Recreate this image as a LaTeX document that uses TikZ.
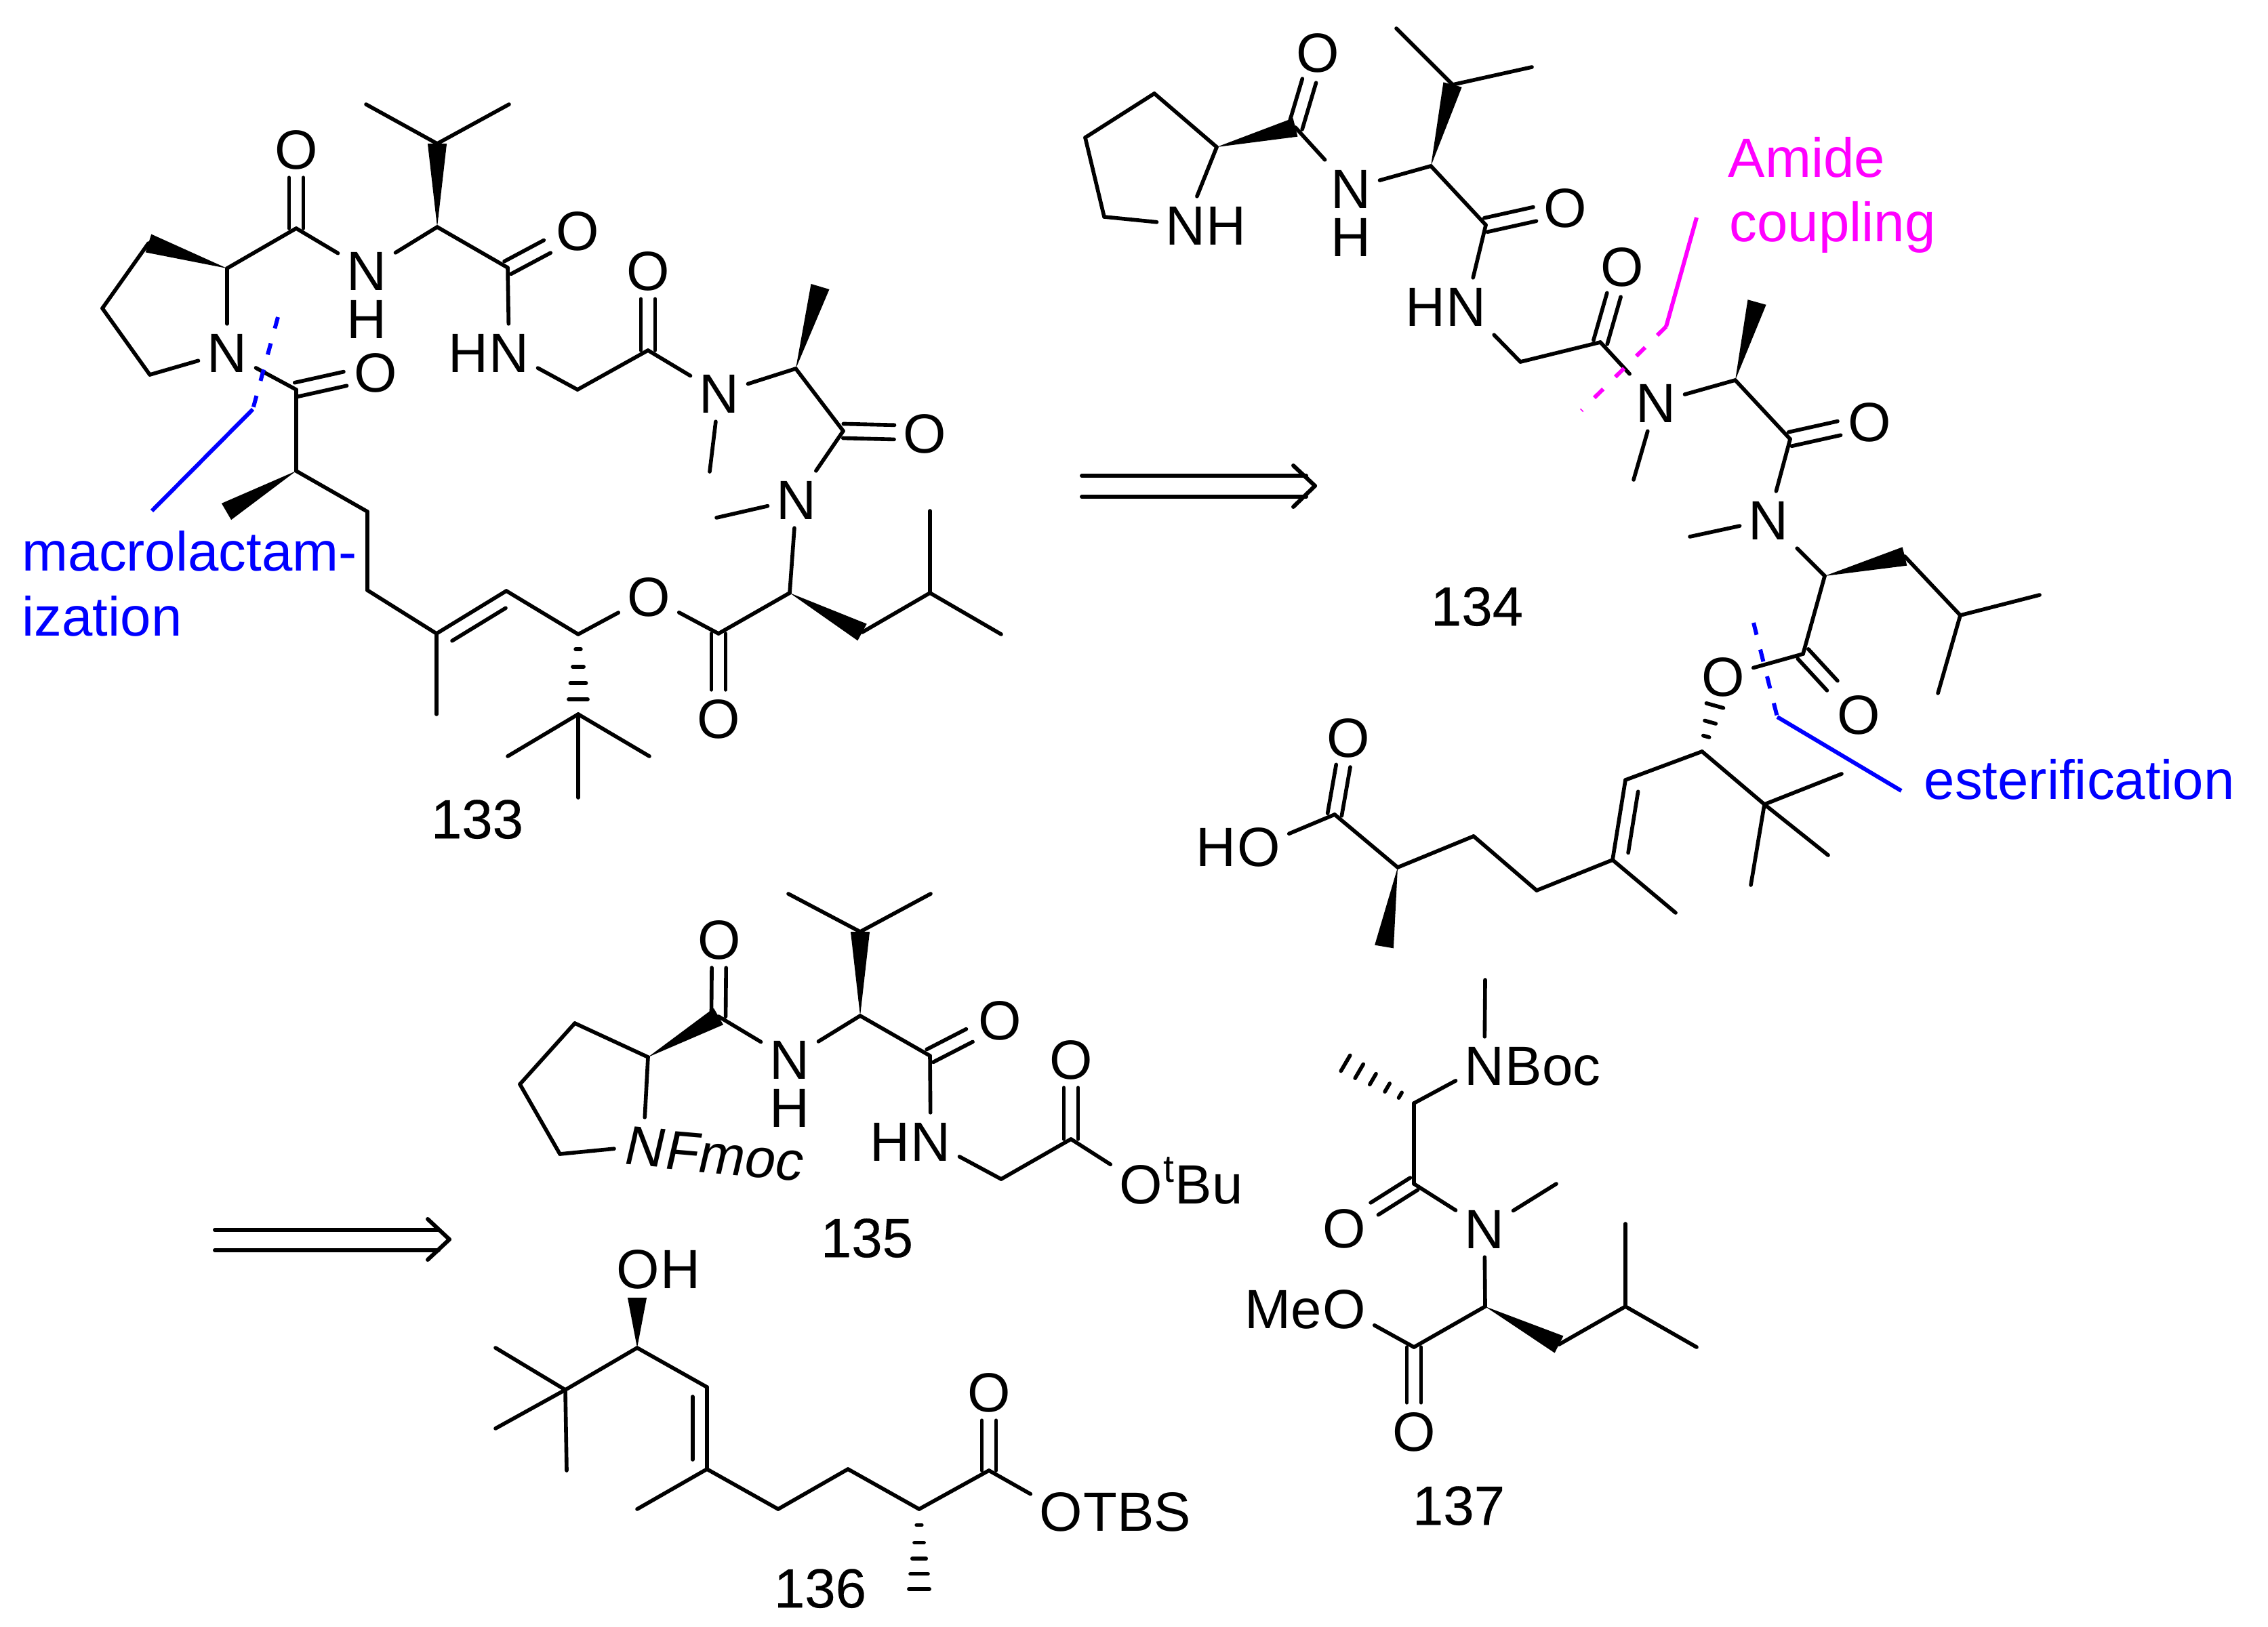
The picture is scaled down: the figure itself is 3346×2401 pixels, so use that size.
\documentclass[tikz,border=0pt]{standalone}
\usepackage{fontspec}
\setmainfont{Liberation Sans}
\newfontfamily\tagfont[FakeBold=0.25]{Liberation Sans}
\newfontfamily\leanfont[FakeSlant=0.14]{Liberation Sans}
\usetikzlibrary{calc, positioning}
\definecolor{cutblue}{RGB}{0,0,255}
\definecolor{cutpink}{RGB}{255,0,255}
\tikzstyle{bond} = [line width=1.6pt, line cap=round, line join=round]
\tikzstyle{retro} = [line width=1.7pt, line cap=round, line join=round]
\tikzstyle{atom} = [inner sep=3.5pt, text height=16.6pt, text depth=0pt, font=\fontsize{23.2}{26}\selectfont]
\tikzstyle{tag} = [atom, inner sep=0pt, font=\fontsize{23.2}{26}\tagfont]
\tikzstyle{word} = [inner sep=0pt, anchor=base west, font=\fontsize{23.2}{26}\selectfont]
\tikzstyle{cut} = [line width=1.7pt]
\newcommand{\dbond}[2]{%
  \path (#1) -- (#2) coordinate[pos=0] (ds) coordinate[pos=1] (de);
  \draw[bond] ($(ds)!3pt!90:(de)$) -- ($(de)!3pt!-90:(ds)$);
  \draw[bond] ($(ds)!3pt!-90:(de)$) -- ($(de)!3pt!90:(ds)$);}
\newcommand{\inbond}[4]{%
  \draw[bond] (#1) -- (#2);
  \draw[bond, shorten <=4pt, shorten >=4pt] ($(#1)!6pt!#3:(#2)$) -- ($(#2)!6pt!#4:(#1)$);}
\newcommand{\wdg}[2]{%
  \fill ($(#2)!4pt!90:(#1)$) -- (#1) -- ($(#2)!4pt!-90:(#1)$) -- cycle;}
\newcommand{\hsh}[3]{%
  \foreach \t/\w in {#3} {
    \coordinate (hc) at ($(#1)!\t!(#2)$);
    \draw[bond] ($(hc)!\w pt!90:(#1)$) -- ($(hc)!\w pt!-90:(#1)$);}}

\begin{document}
\begin{tikzpicture}[x=0.01cm, y=-0.01cm]
\useasboundingbox (0,0) rectangle (3346,2401);

\foreach \n/\x/\y in {AiL/540/154, AiR/751/154, Aic/645/212, AvA/645/335, AvC/749/395, ApC/437/337, ApA/335/396,
  Ar1/219/359, Ar2/151/455, Ar3/221/553, AgM/852/575, AgC/956/517, AaA/1174/544, AaM/1210/423, AaC/1244/636,
  AaNm/1047/696, AlNm/1057/764, AcC/437/575, AcA/437/695, AcM/334/755, Ac1/542/755, Ac2/542/871, Ac3/644/935,
  AcMe/644/1054, Ac4/747/872, Ac5/853/936, AtC/853/1054, At1/749/1116, At2/958/1116, At3/853/1177, AeC/1060/935,
  AlA/1165/875, AlB/1272/933, AlC/1372/875, AlD/1372/754, AlE/1477/936,
  Br1/1703/138, Br2/1601/203, Br3/1629/320, BpA/1795/217, BpC/1911/188, BvA/2111/245, BiC/2143/125, BiL/2060/42,
  BiR/2260/99, BvC/2192/332, BgM/2243/534, BgC/2361/505, BaA/2560/561, BaM/2592/446, BaNm/2410/708, BaC/2641/648,
  BlNm/2493/792, BlA/2692/850, BlB/2810/821, BlC/2892/908, BlD/3009/878, BlE/2859/1023, BeC/2660/965, BcA/2511/1109,
  Bc1/2398/1151, Bc2/2379/1269, BcMe/2472/1347, BtC/2603/1187, Bt1/2717/1142, Bt2/2697/1262, Bt3/2583/1306,
  Bc3/2267/1314, Bc4/2174/1234, Bc5/2062/1280, BkC/1969/1202, BcM/2042/1397,
  CiL/1163/1319, CiR/1373/1319, CiC/1269/1375, CvA/1269/1499, CvC/1372/1558, CgM/1477/1740, CgC/1580/1681,
  CpC/1060/1500, CpA/956/1560, Cr1/848/1510, Cr2/767/1600, Cr3/826/1703,
  DcE/940/1915, DcA/940/1989, DtC/834/2051, Dt1/731/1989, Dt2/731/2108, Dt3/836/2170, Dc1/1043/2047, Dc2/1043/2168,
  DcMe/940/2227, Dc3/1148/2227, Dc4/1251/2168, Dc5/1356/2227, DkC/1459/2170, Dh/1356/2345,
  EMe/2191/1446, EaA/2086/1628, EaM/1985/1569, EaC/2086/1747, EMe2/2296/1747, ElA/2191/1928, EeC/2086/1988,
  ElB/2300/1984, ElC/2398/1928, ElD/2398/1806, ElE/2503/1988,
  R1a/1596/702, R1b/1927/702, R1c/1596/733, R1d/1927/733, R1e/1908/687, R1f/1940/717, R1g/1908/748,
  R2a/317/1815, R2b/647/1815, R2c/317/1845, R2d/647/1845, R2e/631/1799, R2f/663/1829, R2g/631/1859,
  Mp/410/468, Mq/373/604, Mr/224/754, Sp/2587/919, Sq/2622/1058, Sr/2805/1167, Kp/2333/606, Kq/2458/482, Kr/2503/321}
  \coordinate (\n) at (\x,\y);

\node(AO1)[atom] at (437,220) {O};
\node(AN1)[atom] at (541,399) {N};
\node(AH1)[atom, below=-3.7pt of AN1] {H};
\node(AO2)[atom] at (852,340) {O};
\node(AN2)[atom] at (751,520) {N};
\node(AH2)[atom, left=-7pt of AN2] {H};
\node(AO3)[atom] at (956,399) {O};
\node(AN3)[atom] at (1061,580) {N};
\node(AO4)[atom] at (1364,639) {O};
\node(AN4)[atom] at (1175,737) {N};
\node(AN5)[atom] at (335,520) {N};
\node(AO5)[atom] at (554,549) {O};
\node(AO6)[atom] at (957,880) {O};
\node(AO7)[atom] at (1060,1060) {O};
\node(T133)[tag] at (704,1208) {133};

\node(BO1)[atom] at (1944,77) {O};
\node(BN1)[atom] at (1749,332) {N};
\node(BH1)[atom, right=-7pt of BN1] {H};
\node(BN2)[atom] at (1993,278) {N};
\node(BH2)[atom, below=-3.7pt of BN2] {H};
\node(BO2)[atom] at (2309,306) {O};
\node(BN3)[atom] at (2163,452) {N};
\node(BH3)[atom, left=-7pt of BN3] {H};
\node(BO3)[atom] at (2393,393) {O};
\node(BN4)[atom] at (2443,594) {N};
\node(BO4)[atom] at (2758,622) {O};
\node(BN5)[atom] at (2609,767) {N};
\node(BO5)[atom] at (2742,1054) {O};
\node(BO6)[atom] at (2542,998) {O};
\node(BO7)[atom] at (1989,1088) {O};
\node(BO8)[atom] at (1857,1249) {O};
\node(BH8)[atom, left=-7pt of BO8] {H};
\node(T134)[tag] at (2179,894) {134};

\node(CO1)[atom] at (1061,1386) {O};
\node(CN1)[atom] at (1165,1563) {N};
\node(CH1)[atom, below=-3.7pt of CN1] {H};
\node(CO2)[atom] at (1475,1505) {O};
\node(CN2)[atom] at (1373,1684) {N};
\node(CH2)[atom, left=-7pt of CN2] {H};
\node(CO3)[atom] at (1580,1563) {O};
\node(CO4)[atom] at (1683,1747) {O};
\node(CB4)[atom, right=-7pt of CO4] {\textsuperscript{t}Bu};
\node(CN3)[atom, rotate=-5] at (949,1691) {\leanfont N};
\node(CF3)[atom, rotate=-5, right=-7pt of CN3] {\leanfont Fmoc};
\node(T135)[tag] at (1279,1826) {135};

\node(DO1)[atom] at (941,1872) {O};
\node(DH1)[atom, right=-7pt of DO1] {H};
\node(DO2)[atom] at (1459,2054) {O};
\node(DO3)[atom] at (1565,2230) {O};
\node(DT3)[atom, right=-7pt of DO3] {TBS};
\node(T136)[tag] at (1210,2343) {136};

\node(EN1)[atom] at (2190,1572) {N};
\node(EB1)[atom, right=-7pt of EN1] {Boc};
\node(EO1)[atom] at (1983,1812) {O};
\node(EN2)[atom] at (2190,1813) {N};
\node(EO2)[atom] at (1983,1931) {O};
\node(EM2)[atom, left=-7pt of EO2] {Me};
\node(EO3)[atom] at (2086,2112) {O};
\node(T137)[tag] at (2152,2221) {137};

\foreach \a/\b in {AiL/Aic, AiR/Aic, AvA/AN1, ApC/AN1, AvA/AvC, AvC/AN2, AN2/AgM, AgM/AgC, AgC/AN3, AN3/AaA, AN3/AaNm,
  AaA/AaC, AaC/AN4, AN4/AlNm, AN4/AlA, AlA/AeC, AeC/AO6, AO6/Ac5, Ac5/Ac4, AlB/AlC, AlC/AlD, AlC/AlE, AtC/At1, AtC/At2,
  AtC/At3, Ac3/AcMe, Ac3/Ac2, Ac2/Ac1, Ac1/AcA, AcA/AcC, AcC/AN5, AN5/ApA, AN5/Ar3, Ar3/Ar2, Ar2/Ar1, ApA/ApC,
  Br1/Br2, Br2/Br3, Br3/BN1, BN1/BpA, BpA/Br1, BpC/BN2, BN2/BvA, BvA/BvC, BiC/BiL, BiC/BiR, BvC/BN3, BN3/BgM, BgM/BgC,
  BgC/BN4, BN4/BaA, BN4/BaNm, BaA/BaC, BaC/BN5, BN5/BlNm, BN5/BlA, BlA/BeC, BeC/BO6, BlB/BlC, BlC/BlD, BlC/BlE, BcA/Bc1,
  BcA/BtC, BtC/Bt1, BtC/Bt2, BtC/Bt3, Bc2/BcMe, Bc2/Bc3, Bc3/Bc4, Bc4/Bc5, Bc5/BkC, BkC/BO8,
  CiC/CiL, CiC/CiR, CvA/CvC, CvC/CN2, CN2/CgM, CgM/CgC, CgC/CO4, CN1/CvA, CpC/CN1, CpA/Cr1, Cr1/Cr2, Cr2/Cr3, Cr3/CN3, CpA/CN3,
  DcA/DtC, DtC/Dt1, DtC/Dt2, DtC/Dt3, DcA/Dc1, Dc2/DcMe, Dc2/Dc3, Dc3/Dc4, Dc4/Dc5, Dc5/DkC, DkC/DO3,
  EMe/EN1, EN1/EaA, EaA/EaC, EaC/EN2, EN2/EMe2, EN2/ElA, ElA/EeC, EeC/EO2, ElB/ElC, ElC/ElD, ElC/ElE}
  \draw[bond] (\a) -- (\b);

\foreach \a/\b in {ApC/AO1, AvC/AO2, AgC/AO3, AaC/AO4, AcC/AO5, AeC/AO7, BpC/BO1, BvC/BO2, BgC/BO3, BaC/BO4, BeC/BO5, BkC/BO7,
  CpC/CO1, CvC/CO2, CgC/CO3, DkC/DO2, EaC/EO1, EeC/EO3}
  {\dbond{\a}{\b}}

\foreach \a/\b in {AvA/Aic, ApA/Ar1, AcA/AcM, AaA/AaM, AlA/AlB, BpA/BpC, BvA/BiC, BaA/BaM, BlA/BlB, Bc5/BcM,
  CvA/CiC, CpA/CpC, DcA/DcE, ElA/ElB}
  {\wdg{\a}{\b}}

\inbond{Ac3}{Ac4}{-90}{90}
\inbond{Bc1}{Bc2}{90}{-90}
\inbond{Dc1}{Dc2}{-90}{90}

\hsh{Ac5}{AtC}{.186/1.1, .407/2.3, .61/3.3, .814/4}
\hsh{BcA}{BO6}{.2/1.3, .39/2.4, .61/3.7}
\hsh{Dc5}{Dh}{.2/1.1, .42/2, .62/2.9, .81/3.7, 1/4.3}
\hsh{EaA}{EaM}{.2/1.3, .39/2, .6/2.6, .8/3.4, 1/3.8}

\foreach \a/\b in {R1a/R1b, R1c/R1d, R1e/R1f, R1f/R1g, R2a/R2b, R2c/R2d, R2e/R2f, R2f/R2g}
  \draw[retro] (\a) -- (\b);

\draw[cut, cutblue, dash pattern=on 4.9pt off 6.5pt] (Mp) -- (Mq);
\draw[cut, cutblue] (Mq) -- (Mr);
\node(Tma)[word, cutblue] at (32,843) {macrolactam-};
\node(Tiz)[word, cutblue] at (32,939) {ization};

\draw[cut, cutblue, dash pattern=on 5.2pt off 6.4pt] (Sp) -- (Sq);
\draw[cut, cutblue] (Sq) -- (Sr);
\node(Tes)[word, cutblue] at (2838,1179) {esterification};

\draw[cut, cutpink, dash pattern=on 5.2pt off 7.2pt] (Kq) -- (Kp);
\draw[cut, cutpink] (Kq) -- (Kr);
\node(Tam)[word, cutpink] at (2549,262) {Amide};
\node(Tco)[word, cutpink] at (2551,357) {coupling};

\end{tikzpicture}
\end{document}
